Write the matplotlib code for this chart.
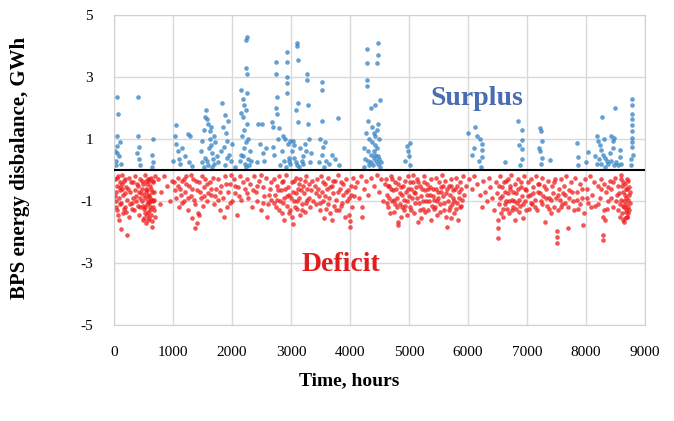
import numpy as np
import matplotlib
matplotlib.use("Agg")
import matplotlib.pyplot as plt

plt.rcParams['font.family'] = ['Liberation Serif', 'DejaVu Serif']
plt.rcParams['axes.unicode_minus'] = False

# hourly balance of the power system over one year, GWh (hour, value)
surplus = [
    (30, 0.15), (40, 0.3), (50, 0.55), (60, 0.78), (45, 1.1), (70, 1.8), (60, 2.35), (90, 0.45), (120, 0.2), (20, 0.6), (100, 0.9),
    (410, 2.35), (400, 1.1), (420, 0.75), (430, 0.35), (440, 0.15), (390, 0.55),
    (660, 1.0), (650, 0.5), (670, 0.25), (640, 0.1),
    (1050, 1.45), (1030, 1.1), (1060, 0.85), (1080, 0.6), (1100, 0.35), (1120, 0.2), (1150, 0.7), (1250, 1.15), (1290, 1.1),
    (1200, 0.45), (1270, 0.25), (1320, 0.12), (1000, 0.3),
    (1480, 0.6), (1500, 0.95), (1520, 1.3), (1540, 1.7), (1560, 1.95), (1580, 1.65), (1600, 1.5), (1620, 1.25), (1630, 1.0),
    (1650, 0.8), (1660, 0.55), (1680, 0.35), (1700, 0.2), (1720, 0.9), (1550, 0.4), (1590, 0.15), (1610, 0.7), (1640, 1.4),
    (1700, 1.1), (1740, 0.45), (1500, 0.25),
    (1830, 2.15), (1880, 1.78), (1850, 1.4), (1900, 1.2), (1920, 0.95), (1870, 0.75), (1950, 0.5), (1980, 0.3), (1820, 0.6),
    (1890, 0.15), (1940, 1.6), (2000, 0.85),
    (2249, 4.3), (2240, 4.2), (2240, 3.3), (2250, 3.1), (2150, 2.6), (2250, 2.5), (2180, 2.3), (2200, 2.1), (2230, 1.95),
    (2190, 1.7), (2260, 1.5), (2210, 1.3), (2170, 1.1), (2240, 0.9), (2200, 0.7), (2150, 0.5), (2270, 0.35), (2220, 0.2),
    (2300, 0.6), (2280, 1.0), (2160, 1.85), (2290, 0.15), (2130, 0.3),
    (2450, 1.5), (2510, 1.5), (2480, 0.85), (2520, 0.55), (2550, 0.3), (2580, 0.7), (2430, 0.25),
    (2680, 1.55), (2690, 1.4), (2750, 3.5), (2750, 3.1), (2760, 2.35), (2740, 2.0), (2770, 1.8), (2800, 1.35), (2930, 3.8),
    (2930, 3.5), (2930, 3.0), (2930, 2.8), (2940, 2.5), (2900, 1.0), (2950, 0.85), (2980, 0.95), (2700, 0.75), (2720, 0.5),
    (2850, 0.6), (2880, 0.3), (2820, 0.15), (2960, 0.4), (2990, 0.2), (2780, 1.0), (2870, 1.1),
    (3100, 4.1), (3110, 4.0), (3120, 3.55), (3120, 2.15), (3080, 1.95), (3120, 1.55), (3030, 0.95), (3060, 0.8), (3270, 3.1),
    (3270, 2.9), (3290, 2.1), (3290, 1.5), (3300, 1.0), (3150, 0.7), (3200, 0.45), (3180, 0.3), (3250, 0.6), (3320, 0.25),
    (3050, 0.4), (3100, 0.15), (3230, 0.85), (3340, 0.55),
    (3530, 2.85), (3530, 2.6), (3530, 1.6), (3500, 1.0), (3550, 0.75), (3520, 0.5), (3600, 0.3), (3650, 0.2), (3700, 0.5),
    (3800, 1.68), (3750, 0.35), (3820, 0.15), (3580, 0.9), (3480, 0.25),
    (4290, 3.9), (4470, 4.1), (4470, 3.7), (4460, 3.45), (4290, 3.45), (4290, 2.9), (4290, 2.7), (4510, 2.25), (4350, 2.0),
    (4430, 2.1), (4300, 1.6), (4480, 1.5), (4450, 1.3), (4400, 1.2), (4320, 1.0), (4380, 0.9), (4420, 0.8), (4460, 0.7),
    (4300, 0.6), (4350, 0.5), (4400, 0.4), (4440, 0.3), (4480, 0.2), (4330, 0.15), (4260, 0.35), (4500, 1.0), (4370, 1.4),
    (4410, 0.6), (4470, 0.45), (4240, 0.7), (4520, 0.25), (4360, 0.25), (4420, 1.1), (4280, 1.2),
    (4960, 0.77), (4980, 0.6), (5000, 0.45), (5020, 0.87), (4940, 0.3), (5010, 0.15),
    (6000, 1.2), (6120, 1.4), (6230, 0.85), (6230, 0.65), (6240, 0.42), (6220, 0.1), (6150, 1.1), (6100, 0.7), (6180, 0.3),
    (6060, 0.5), (6200, 1.0),
    (6630, 0.26), (6850, 1.6), (6920, 1.3), (6920, 0.97), (6920, 0.67), (6910, 0.35), (6880, 0.15), (6860, 0.8),
    (7220, 1.35), (7230, 1.25), (7210, 0.7), (7220, 0.6), (7230, 0.2), (7390, 0.33), (7260, 0.95), (7250, 0.4),
    (7850, 0.87), (7860, 0.43), (8040, 0.57), (7870, 0.15), (8000, 0.25),
    (8270, 1.7), (8490, 2.0), (8180, 1.1), (8200, 0.95), (8230, 0.8), (8260, 0.65), (8290, 0.5), (8320, 0.4), (8350, 0.3),
    (8380, 0.2), (8220, 0.35), (8420, 1.1), (8450, 0.95), (8480, 1.05), (8460, 0.7), (8580, 0.65), (8580, 0.42), (8400, 0.55),
    (8500, 0.25), (8550, 0.15), (8300, 1.0), (8250, 0.2), (8150, 0.45),
    (8780, 2.3), (8780, 2.1), (8780, 1.8), (8780, 1.65), (8780, 1.45), (8780, 1.25), (8780, 1.05), (8780, 0.9), (8780, 0.73),
    (8770, 0.35), (8790, 0.5), (8760, 0.15),
    (1530, 0.1), (1570, 0.3), (1670, 0.1), (1760, 0.25), (1910, 0.4), (2050, 0.1), (2190, 0.45), (2230, 0.1), (2320, 0.3),
    (2910, 0.1), (2970, 0.3), (3010, 0.6), (3080, 0.25), (3140, 0.1), (3210, 0.2), (3560, 0.1), (4230, 0.1), (4310, 0.3),
    (4390, 0.15), (4430, 0.5), (4490, 0.35), (4510, 0.1), (8190, 0.2), (8330, 0.1), (8430, 0.3), (8470, 0.15), (8600, 0.2),
]

deficit = [
    (20, -0.3), (30, -0.7), (40, -1.0), (50, -0.5), (60, -1.3), (70, -0.2), (80, -0.9), (90, -1.6), (100, -0.4), (110, -1.1),
    (120, -1.9), (130, -0.6), (140, -0.15), (150, -1.4), (160, -0.8), (170, -0.35), (180, -1.2), (200, -0.55), (220, -2.1),
    (230, -0.95), (250, -0.25), (260, -1.5), (280, -0.7), (300, -1.05), (320, -0.4), (340, -1.3), (360, -0.2), (380, -0.85),
    (400, -1.15), (410, -0.5), (430, -1.45), (450, -0.3), (460, -0.75), (480, -1.0), (490, -1.6), (500, -0.45), (510, -1.25),
    (520, -0.15), (530, -0.9), (540, -1.7), (550, -0.6), (560, -1.1), (570, -0.3), (580, -1.35), (590, -0.8), (600, -1.55),
    (610, -0.5), (620, -1.0), (630, -0.25), (640, -1.83), (650, -0.7), (660, -1.2), (670, -0.4), (680, -0.95), (690, -1.5),
    (700, -0.2), (480, -0.6), (560, -0.65), (600, -0.35), (520, -1.4), (440, -0.9), (350, -0.65), (270, -1.1), (190, -0.75),
    (110, -0.55), (590, -1.05), (620, -1.3), (500, -1.15), (540, -0.35), (580, -0.85), (650, -1.65),
    (15, -0.85), (35, -1.2), (55, -0.25), (75, -1.45), (95, -0.65), (125, -1.05), (145, -0.45), (165, -1.25), (185, -0.3),
    (210, -1.35), (240, -0.6), (290, -0.4), (310, -1.25), (330, -0.9), (370, -1.0), (390, -0.45), (420, -0.7), (445, -1.2),
    (470, -0.35), (505, -0.8), (515, -1.55), (535, -1.2), (545, -0.7), (555, -1.45), (565, -0.45), (575, -1.0), (585, -1.6),
    (595, -0.3), (605, -0.9), (615, -1.2), (625, -0.6), (635, -1.45), (645, -0.95), (655, -0.35), (665, -1.0), (675, -0.7),
    (685, -1.3),
    (750, -0.3), (800, -0.7), (850, -0.2), (900, -0.5), (950, -1.0), (980, -0.35), (780, -1.1),
    (1020, -0.4), (1050, -0.9), (1080, -0.25), (1100, -1.2), (1120, -0.6), (1150, -0.35), (1180, -1.0), (1200, -0.7),
    (1220, -0.2), (1250, -1.3), (1270, -0.5), (1300, -0.85), (1320, -1.55), (1340, -0.3), (1370, -1.88), (1380, -1.1),
    (1400, -0.65), (1420, -1.4), (1440, -0.4), (1450, -1.45), (1470, -0.9), (1490, -0.2), (1510, -1.15), (1530, -0.55),
    (1550, -0.3), (1570, -1.0), (1590, -0.75), (1300, -0.15), (1360, -0.95), (1410, -1.7), (1230, -0.45), (1150, -1.05),
    (1040, -0.65), (1090, -0.5), (1140, -0.8), (1190, -0.3), (1260, -0.9), (1330, -0.6), (1390, -0.35), (1460, -0.7),
    (1520, -0.85), (1580, -0.45),
    (1620, -0.4), (1650, -0.8), (1680, -0.25), (1700, -1.1), (1730, -0.6), (1760, -0.3), (1790, -1.3), (1820, -0.5),
    (1850, -0.9), (1880, -0.2), (1910, -1.2), (1940, -0.7), (1970, -0.45), (2000, -1.0), (2030, -0.3), (2060, -0.75),
    (2080, -1.45), (2100, -0.55), (2130, -0.2), (2160, -0.95), (2190, -0.4), (1860, -1.5), (1760, -0.95), (1990, -0.15),
    (1640, -0.6), (1720, -0.85), (1800, -0.7), (1900, -0.45), (1960, -1.05), (2050, -0.5), (2120, -0.85),
    (2220, -0.6), (2250, -0.3), (2280, -0.9), (2310, -0.45), (2340, -1.2), (2370, -0.2), (2400, -0.7), (2430, -1.0),
    (2460, -0.35), (2490, -1.3), (2520, -0.55), (2550, -0.85), (2580, -0.25), (2610, -1.1), (2640, -0.6), (2670, -0.4),
    (2350, -0.65), (2500, -0.15), (2600, -1.5), (2260, -0.75), (2420, -0.5), (2530, -1.05), (2620, -0.8), (2660, -0.95),
    (2710, -0.3), (2730, -0.8), (2750, -1.2), (2770, -0.5), (2790, -0.2), (2810, -1.0), (2830, -0.65), (2850, -1.4),
    (2870, -0.35), (2890, -0.9), (2910, -0.15), (2930, -1.15), (2950, -0.55), (2970, -0.8), (2990, -1.3), (3010, -0.4),
    (3020, -1.52), (3040, -0.7), (3060, -1.0), (3080, -0.25), (3100, -1.25), (3120, -0.6), (3140, -0.9), (3160, -0.3),
    (3180, -1.1), (3200, -0.5), (3220, -0.75), (3240, -1.35), (3260, -0.2), (3280, -0.95), (3300, -0.45), (3320, -1.2),
    (3340, -0.65), (3360, -0.35), (3380, -1.0), (2880, -1.6), (3030, -1.75), (3150, -1.45), (2760, -0.95),
    (2720, -1.05), (2780, -0.65), (2800, -1.3), (2840, -0.4), (2860, -1.05), (2900, -0.6), (2940, -0.85), (2960, -1.4),
    (3000, -0.9), (3050, -0.35), (3070, -1.2), (3090, -0.75), (3110, -1.0), (3130, -0.45), (3170, -0.65), (3190, -1.3),
    (3230, -0.35), (3250, -1.05), (3270, -0.6), (3310, -0.9),
    (3410, -0.5), (3430, -1.1), (3450, -0.3), (3470, -0.85), (3490, -1.3), (3510, -0.2), (3530, -0.7), (3550, -1.0),
    (3570, -0.45), (3590, -1.25), (3610, -0.6), (3630, -0.25), (3650, -0.9), (3670, -1.4), (3690, -0.5), (3710, -0.75),
    (3730, -1.15), (3750, -0.35), (3770, -0.95), (3790, -0.15), (3810, -1.3), (3830, -0.6), (3850, -0.4), (3870, -1.05),
    (3890, -0.8), (3910, -1.5), (3930, -0.3), (3950, -1.0), (3970, -0.65), (3990, -1.45), (4000, -1.65), (4000, -1.85),
    (4010, -0.5), (4030, -1.2), (4050, -0.25), (4070, -0.85), (4090, -0.55), (3700, -1.6), (3560, -1.55),
    (3420, -0.75), (3460, -0.6), (3500, -1.05), (3540, -0.4), (3580, -0.85), (3620, -1.1), (3660, -0.55), (3720, -0.35),
    (3760, -1.3), (3800, -0.7), (3840, -1.15), (3880, -0.45), (3940, -0.7), (3980, -0.9), (4020, -0.8),
    (4120, -0.4), (4150, -0.9), (4180, -0.2), (4210, -1.2), (4240, -0.6), (4270, -0.35), (4310, -0.8), (4350, -0.25),
    (4400, -0.5), (4450, -0.15), (4500, -0.7), (4530, -0.3), (4560, -1.0), (4590, -0.45), (4200, -1.5),
    (4610, -0.3), (4630, -0.8), (4650, -1.2), (4670, -0.5), (4690, -0.2), (4710, -1.0), (4730, -0.65), (4750, -1.35),
    (4770, -0.4), (4790, -0.9), (4810, -1.68), (4810, -1.77), (4830, -0.25), (4850, -1.1), (4870, -0.55), (4890, -0.8),
    (4910, -1.3), (4930, -0.35), (4950, -0.7), (4970, -1.0), (4990, -0.2), (5010, -1.2), (5030, -0.6), (5050, -0.9),
    (5070, -0.4), (5090, -1.4), (5110, -0.75), (5130, -0.3), (5150, -1.68), (5170, -1.05), (5190, -0.5), (5210, -0.85),
    (5230, -1.25), (5250, -0.2), (5270, -0.65), (5290, -1.0), (5310, -0.45), (5330, -1.3), (5350, -0.8), (5370, -0.3),
    (5390, -1.15), (5410, -0.6), (5430, -0.95), (5450, -0.25), (5470, -1.45), (5490, -0.7), (5510, -0.4), (5530, -1.1),
    (5550, -0.55), (5570, -0.85), (5590, -1.3), (5610, -0.35), (5630, -0.75), (5640, -1.83), (5660, -1.0), (5680, -0.5),
    (5700, -1.2), (5720, -0.3), (5740, -0.9), (5760, -1.4), (5780, -0.6), (5800, -0.25), (5820, -1.05), (5830, -1.6),
    (5850, -0.7), (5870, -0.4), (5890, -1.15), (5910, -0.2), (5940, -0.8), (5970, -0.5), (4740, -0.95), (4860, -1.5),
    (5060, -0.15), (5200, -1.55), (5320, -0.6), (5440, -1.2), (5560, -0.15), (5720, -1.55), (4960, -1.45), (5380, -1.6),
    (4620, -1.05), (4640, -0.5), (4660, -0.9), (4680, -1.4), (4700, -0.6), (4720, -0.3), (4760, -1.1), (4780, -0.6),
    (4800, -1.2), (4820, -0.45), (4840, -0.75), (4880, -1.2), (4900, -0.5), (4920, -0.95), (4940, -1.15), (4980, -0.6),
    (5000, -0.85), (5020, -0.4), (5040, -1.3), (5080, -0.7), (5100, -1.05), (5120, -0.55), (5140, -0.9), (5160, -0.4),
    (5180, -1.3), (5220, -0.6), (5240, -1.0), (5260, -0.4), (5280, -1.35), (5300, -0.8), (5340, -1.0), (5360, -0.55),
    (5400, -0.85), (5420, -1.25), (5460, -0.6), (5480, -1.0), (5500, -0.9), (5520, -1.35), (5540, -0.7), (5580, -0.5),
    (5600, -1.05), (5620, -1.5), (5650, -0.6), (5670, -1.3), (5690, -0.8), (5710, -0.5), (5730, -1.1), (5750, -0.65),
    (5770, -1.0), (5790, -1.25), (5810, -0.5), (5840, -0.9), (5860, -1.2), (5880, -0.6), (5900, -0.95),
    (6020, -0.3), (6060, -0.6), (6100, -0.2), (6150, -0.45), (6200, -0.8), (6240, -1.2), (6260, -0.35), (6290, -0.7),
    (6320, -1.0), (6350, -0.25), (6380, -0.55), (6410, -0.9), (6440, -1.3), (6470, -0.4), (6490, -0.75),
    (6510, -2.2), (6510, -1.87), (6510, -1.6), (6520, -1.1), (6530, -0.5), (6550, -0.2), (6570, -0.85), (6590, -1.25),
    (6610, -0.4), (6630, -0.7), (6650, -1.0), (6670, -0.3), (6690, -1.4), (6710, -0.6), (6730, -0.15), (6750, -0.95),
    (6770, -1.2), (6790, -0.45), (6810, -0.75), (6830, -1.05), (6850, -0.3), (6870, -1.35), (6890, -0.55), (6910, -0.85),
    (6930, -1.55), (6950, -0.2), (6970, -1.0), (6990, -0.65), (7010, -0.4), (7030, -1.25), (7050, -0.8), (7070, -0.3),
    (7090, -1.1), (7110, -0.55), (7130, -0.95), (7150, -0.2), (7170, -1.3), (7190, -0.7), (7210, -0.45), (7230, -1.0),
    (7250, -0.25), (7270, -0.85), (7300, -1.68), (7320, -0.6), (7340, -1.15), (7360, -0.35), (7380, -0.9), (7400, -1.4),
    (7420, -0.5), (7440, -0.75), (7460, -1.2), (7480, -0.3), (6600, -1.5), (6800, -1.6),
    (6540, -0.9), (6560, -1.4), (6580, -0.55), (6620, -1.1), (6640, -0.35), (6660, -1.25), (6680, -0.75), (6700, -1.0),
    (6720, -0.5), (6740, -1.3), (6760, -0.7), (6780, -1.0), (6820, -1.25), (6840, -0.6), (6860, -0.95), (6880, -1.15),
    (6900, -0.4), (6940, -1.1), (6960, -0.6), (6980, -1.3), (7020, -0.85), (7060, -1.05), (7100, -0.75), (7140, -1.2),
    (7180, -0.45), (7220, -0.75), (7260, -1.1), (7290, -0.5), (7330, -0.9), (7370, -1.25), (7410, -0.95), (7450, -0.4),
    (7490, -0.9),
    (7510, -2.35), (7510, -2.15), (7510, -1.95), (7520, -1.3), (7540, -0.6), (7560, -0.95), (7580, -0.3), (7600, -1.1),
    (7620, -0.5), (7640, -0.8), (7660, -0.2), (7690, -1.87), (7700, -1.2), (7720, -0.65), (7750, -0.4), (7780, -1.0),
    (7810, -0.25), (7840, -0.7), (7870, -1.25), (7900, -0.45), (7930, -0.9), (7950, -1.77), (7960, -1.4), (7980, -0.3),
    (8010, -0.6), (8040, -1.05), (8070, -0.2), (8100, -0.8), (8130, -0.4), (8160, -1.15),
    (7530, -0.8), (7570, -1.2), (7610, -0.75), (7650, -1.05), (7710, -0.9), (7760, -0.7), (7800, -1.3), (7850, -0.95),
    (7890, -1.1), (7940, -0.6), (8020, -0.9), (8080, -1.2),
    (8200, -0.5), (8230, -0.9), (8260, -0.3), (8290, -2.26), (8290, -2.1), (8300, -1.3), (8320, -1.6), (8340, -0.7),
    (8370, -1.0), (8400, -0.35), (8430, -0.6), (8460, -1.2), (8490, -0.25), (8520, -0.8), (8550, -0.5), (8570, -1.1),
    (8590, -0.3), (8610, -1.4), (8630, -0.7), (8640, -1.66), (8650, -1.0), (8660, -0.45), (8670, -1.25), (8680, -0.9),
    (8690, -1.5), (8700, -0.6), (8710, -1.2), (8720, -0.35), (8730, -0.8), (8740, -1.05), (8600, -0.15), (8620, -1.15),
    (8680, -1.35), (8700, -1.5),
    (8210, -1.1), (8250, -0.6), (8280, -1.5), (8310, -0.45), (8350, -1.25), (8380, -0.55), (8420, -0.9), (8450, -0.4),
    (8510, -1.0), (8540, -1.3), (8560, -0.75), (8580, -1.5), (8600, -0.95), (8615, -0.5), (8625, -1.6), (8635, -0.4),
    (8645, -1.2), (8655, -0.8), (8665, -1.55), (8675, -0.6), (8685, -1.1), (8695, -0.3), (8705, -0.95), (8715, -1.4),
    (8725, -0.55), (8735, -1.3), (8745, -0.7),
]

x_ticks = [0, 1000, 2000, 3000, 4000, 5000, 6000, 7000, 8000, 9000]
y_ticks = [-5, -3, -1, 1, 3, 5]

s_hours, s_gwh = np.array(surplus).T
d_hours, d_gwh = np.array(deficit).T

fig = plt.figure(figsize=(6.74, 4.21), dpi=100)
ax = fig.add_axes([0.169, 0.228, 0.788, 0.736])

ax.scatter(s_hours, s_gwh, s=11, color='#3080c4', alpha=0.75, linewidths=0, zorder=2)
ax.scatter(d_hours, d_gwh, s=11, color='#f01c1c', alpha=0.75, linewidths=0, zorder=2)
ax.axhline(0, color='black', lw=1.5, zorder=3)

ax.set_xlim(0, 9000)
ax.set_ylim(-5, 5)
ax.set_xticks(x_ticks)
ax.set_yticks(y_ticks)
ax.tick_params(length=0, labelsize=11, pad=15)
ax.grid(True, color='#d9d9d9', lw=1)
ax.set_axisbelow(True)
for sp in ax.spines.values():
    sp.set_color('#d0d0d0')

ax.text(6150, 2.3, 'Surplus', color='#4a6cb3', fontsize=20, fontweight='bold',
        ha='center', va='center')
ax.text(3850, -3.05, 'Deficit', color='#e01e1e', fontsize=20, fontweight='bold',
        ha='center', va='center')

fig.text(0.03, 0.6, 'BPS energy disbalance, GWh', rotation=90, fontsize=15,
         fontweight='bold', ha='center', va='center')
fig.text(0.518, 0.095, 'Time, hours', fontsize=14, fontweight='bold',
         ha='center', va='center')

fig.savefig('out.png', dpi=100)
